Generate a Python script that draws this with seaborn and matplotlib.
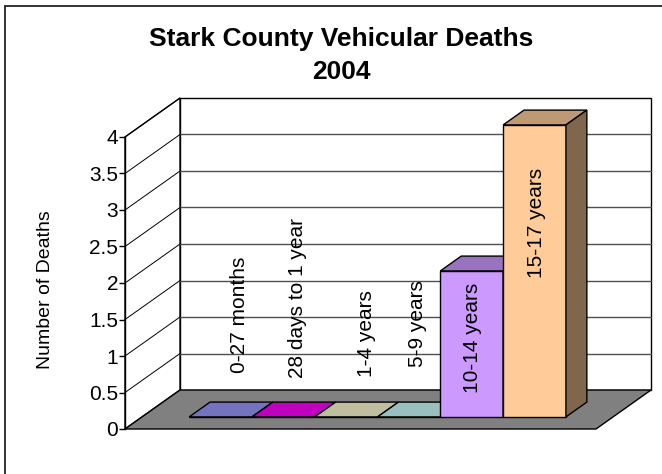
import matplotlib
matplotlib.use("Agg")
import matplotlib.pyplot as plt
from matplotlib.patches import Polygon, Rectangle
from matplotlib.transforms import Affine2D
import matplotlib.colors as mcolors
import seaborn as sns
import numpy as np
import pandas as pd

# chart data
groups = ["0-27 months", "28 days to 1 year", "1-4 years", "5-9 years",
          "10-14 years", "15-17 years"]
deaths = [0, 0, 0, 0, 2, 4]
bar_colors = ["#9999FF", "#FF00FF", "#FFFFD5", "#CCFFFF", "#CC99FF", "#FFCC99"]
y_ticks = [0, 0.5, 1, 1.5, 2, 2.5, 3, 3.5, 4]

sns.set_theme(style="white")
plt.rcParams['font.family'] = ['Liberation Sans', 'DejaVu Sans']
plt.rcParams['text.color'] = 'black'
plt.rcParams['ytick.color'] = 'black'

W, H = 662, 474
fig = plt.figure(figsize=(W / 100, H / 100), dpi=100)
fig.patch.set_facecolor("white")

# front plane of the 3d box, in pixels
x0_px, x1_px, y0_px, y4_px = 125, 596, 429, 137
ax = fig.add_axes([x0_px / W, (H - y0_px) / H, (x1_px - x0_px) / W, (y0_px - y4_px) / H])
ax.set_facecolor("none")

xlim = (-1.25, 6.25)
ylim = (0, 4)
px_x = (x1_px - x0_px) / (xlim[1] - xlim[0])
px_y = (y0_px - y4_px) / (ylim[1] - ylim[0])
# depth of the box (oblique projection)
dx = 55 / px_x
dy = 39 / px_y
d0, d1 = 0.31, 0.69  # bar depth inside the box

def proj(x, v, d):
    return (x + d * dx, v + d * dy)

# back wall
back = Polygon([proj(xlim[0], 0, 1), proj(xlim[1], 0, 1), proj(xlim[1], 4, 1), proj(xlim[0], 4, 1)],
               closed=True, facecolor="white", edgecolor="black", lw=1.0, zorder=0.5, clip_on=False)
ax.add_patch(back)
# left wall
left = Polygon([proj(xlim[0], 0, 0), proj(xlim[0], 0, 1), proj(xlim[0], 4, 1), proj(xlim[0], 4, 0)],
               closed=True, facecolor="white", edgecolor="black", lw=1.0, zorder=0.5, clip_on=False)
ax.add_patch(left)

for t in y_ticks[1:]:
    if t < 4:
        bx0, by = proj(xlim[0], t, 1)
        bx1, _ = proj(xlim[1], t, 1)
        ax.plot([bx0, bx1], [by, by], color="#505050", lw=1.0, zorder=0.6, clip_on=False)
    fx, fy = proj(xlim[0], t, 0)
    bx, by = proj(xlim[0], t, 1)
    ax.plot([fx, bx], [fy, by], color="black", lw=0.7, zorder=0.6, clip_on=False)

# floor
floor = Polygon([proj(xlim[0], 0, 0), proj(xlim[1], 0, 0), proj(xlim[1], 0, 1), proj(xlim[0], 0, 1)],
                closed=True, facecolor="#808080", edgecolor="black", lw=1.0, zorder=0.7, clip_on=False)
ax.add_patch(floor)

# front faces through seaborn, shifted into the box
df = pd.DataFrame({"group": groups, "deaths": deaths})
sns.barplot(data=df, x="group", y="deaths", hue="group", palette=bar_colors,
            width=1.0, legend=False, edgecolor="black", linewidth=1.0, saturation=1, ax=ax)
shift = Affine2D().translate(d0 * dx, d0 * dy) + ax.transData
bars = [p for p in ax.patches if p not in (back, left, floor)]
for i, p in enumerate(bars):
    p.set_transform(shift)
    p.set_zorder(3 + i)
    p.set_clip_on(False)

def shade(c, f):
    r, g, b = mcolors.to_rgb(c)
    return (r * f, g * f, b * f)

for i, (v, c) in enumerate(zip(deaths, bar_colors)):
    l, r = i - 0.5, i + 0.5
    top = Polygon([proj(l, v, d0), proj(r, v, d0), proj(r, v, d1), proj(l, v, d1)], closed=True,
                  facecolor=shade(c, 0.75), edgecolor="black", lw=1.0, zorder=3 + i, clip_on=False)
    ax.add_patch(top)
    if v > 0:
        side = Polygon([proj(r, 0, d0), proj(r, 0, d1), proj(r, v, d1), proj(r, v, d0)], closed=True,
                       facecolor=shade(c, 0.5), edgecolor="black", lw=1.0, zorder=3 + i, clip_on=False)
        ax.add_patch(side)

# data labels (series names), rotated
label_pos = [(0.58, 0.77, "bottom"), (1.49, 0.70, "bottom"), (2.60, 0.71, "bottom"),
             (3.40, 0.85, "bottom"), (4.29, 2.01, "top"), (5.31, 3.58, "top")]
for name, (lx, ly, va) in zip(groups, label_pos):
    ax.text(lx, ly, name, rotation=90, ha="center", va=va, fontsize=15,
            color="black", zorder=20, clip_on=False)

ax.set_xlim(*xlim)
ax.set_ylim(*ylim)
ax.set_xticks([])
ax.set_xlabel("")
ax.set_ylabel("")
ax.set_yticks(y_ticks)
ax.set_yticklabels([f"{t:g}" for t in y_ticks])
ax.tick_params(axis="y", which="both", direction="out", length=4, width=1, color="black",
               labelcolor="black", labelsize=15, pad=1, left=True)
for s in ["top", "right", "bottom"]:
    ax.spines[s].set_visible(False)
ax.spines["left"].set_color("black")
ax.spines["left"].set_linewidth(1.0)
ax.spines["left"].set_zorder(2)

fig.text(46 / W, 1 - 290 / H, "Number of Deaths", rotation=90, ha="center", va="center", fontsize=14)
fig.text(341 / W, 1 - 46 / H, "Stark County Vehicular Deaths", ha="center", va="baseline",
         fontsize=19, fontweight="bold")
fig.text(341 / W, 1 - 79 / H, "2004", ha="center", va="baseline", fontsize=19, fontweight="bold")

# chart area border (cropped on right and bottom)
fig.patches.append(Rectangle((5 / W, -0.1), 1.2, 1.1 - 6 / H, transform=fig.transFigure,
                             facecolor="none", edgecolor="#222222", lw=1.3))

fig.savefig("out.png", dpi=100)
